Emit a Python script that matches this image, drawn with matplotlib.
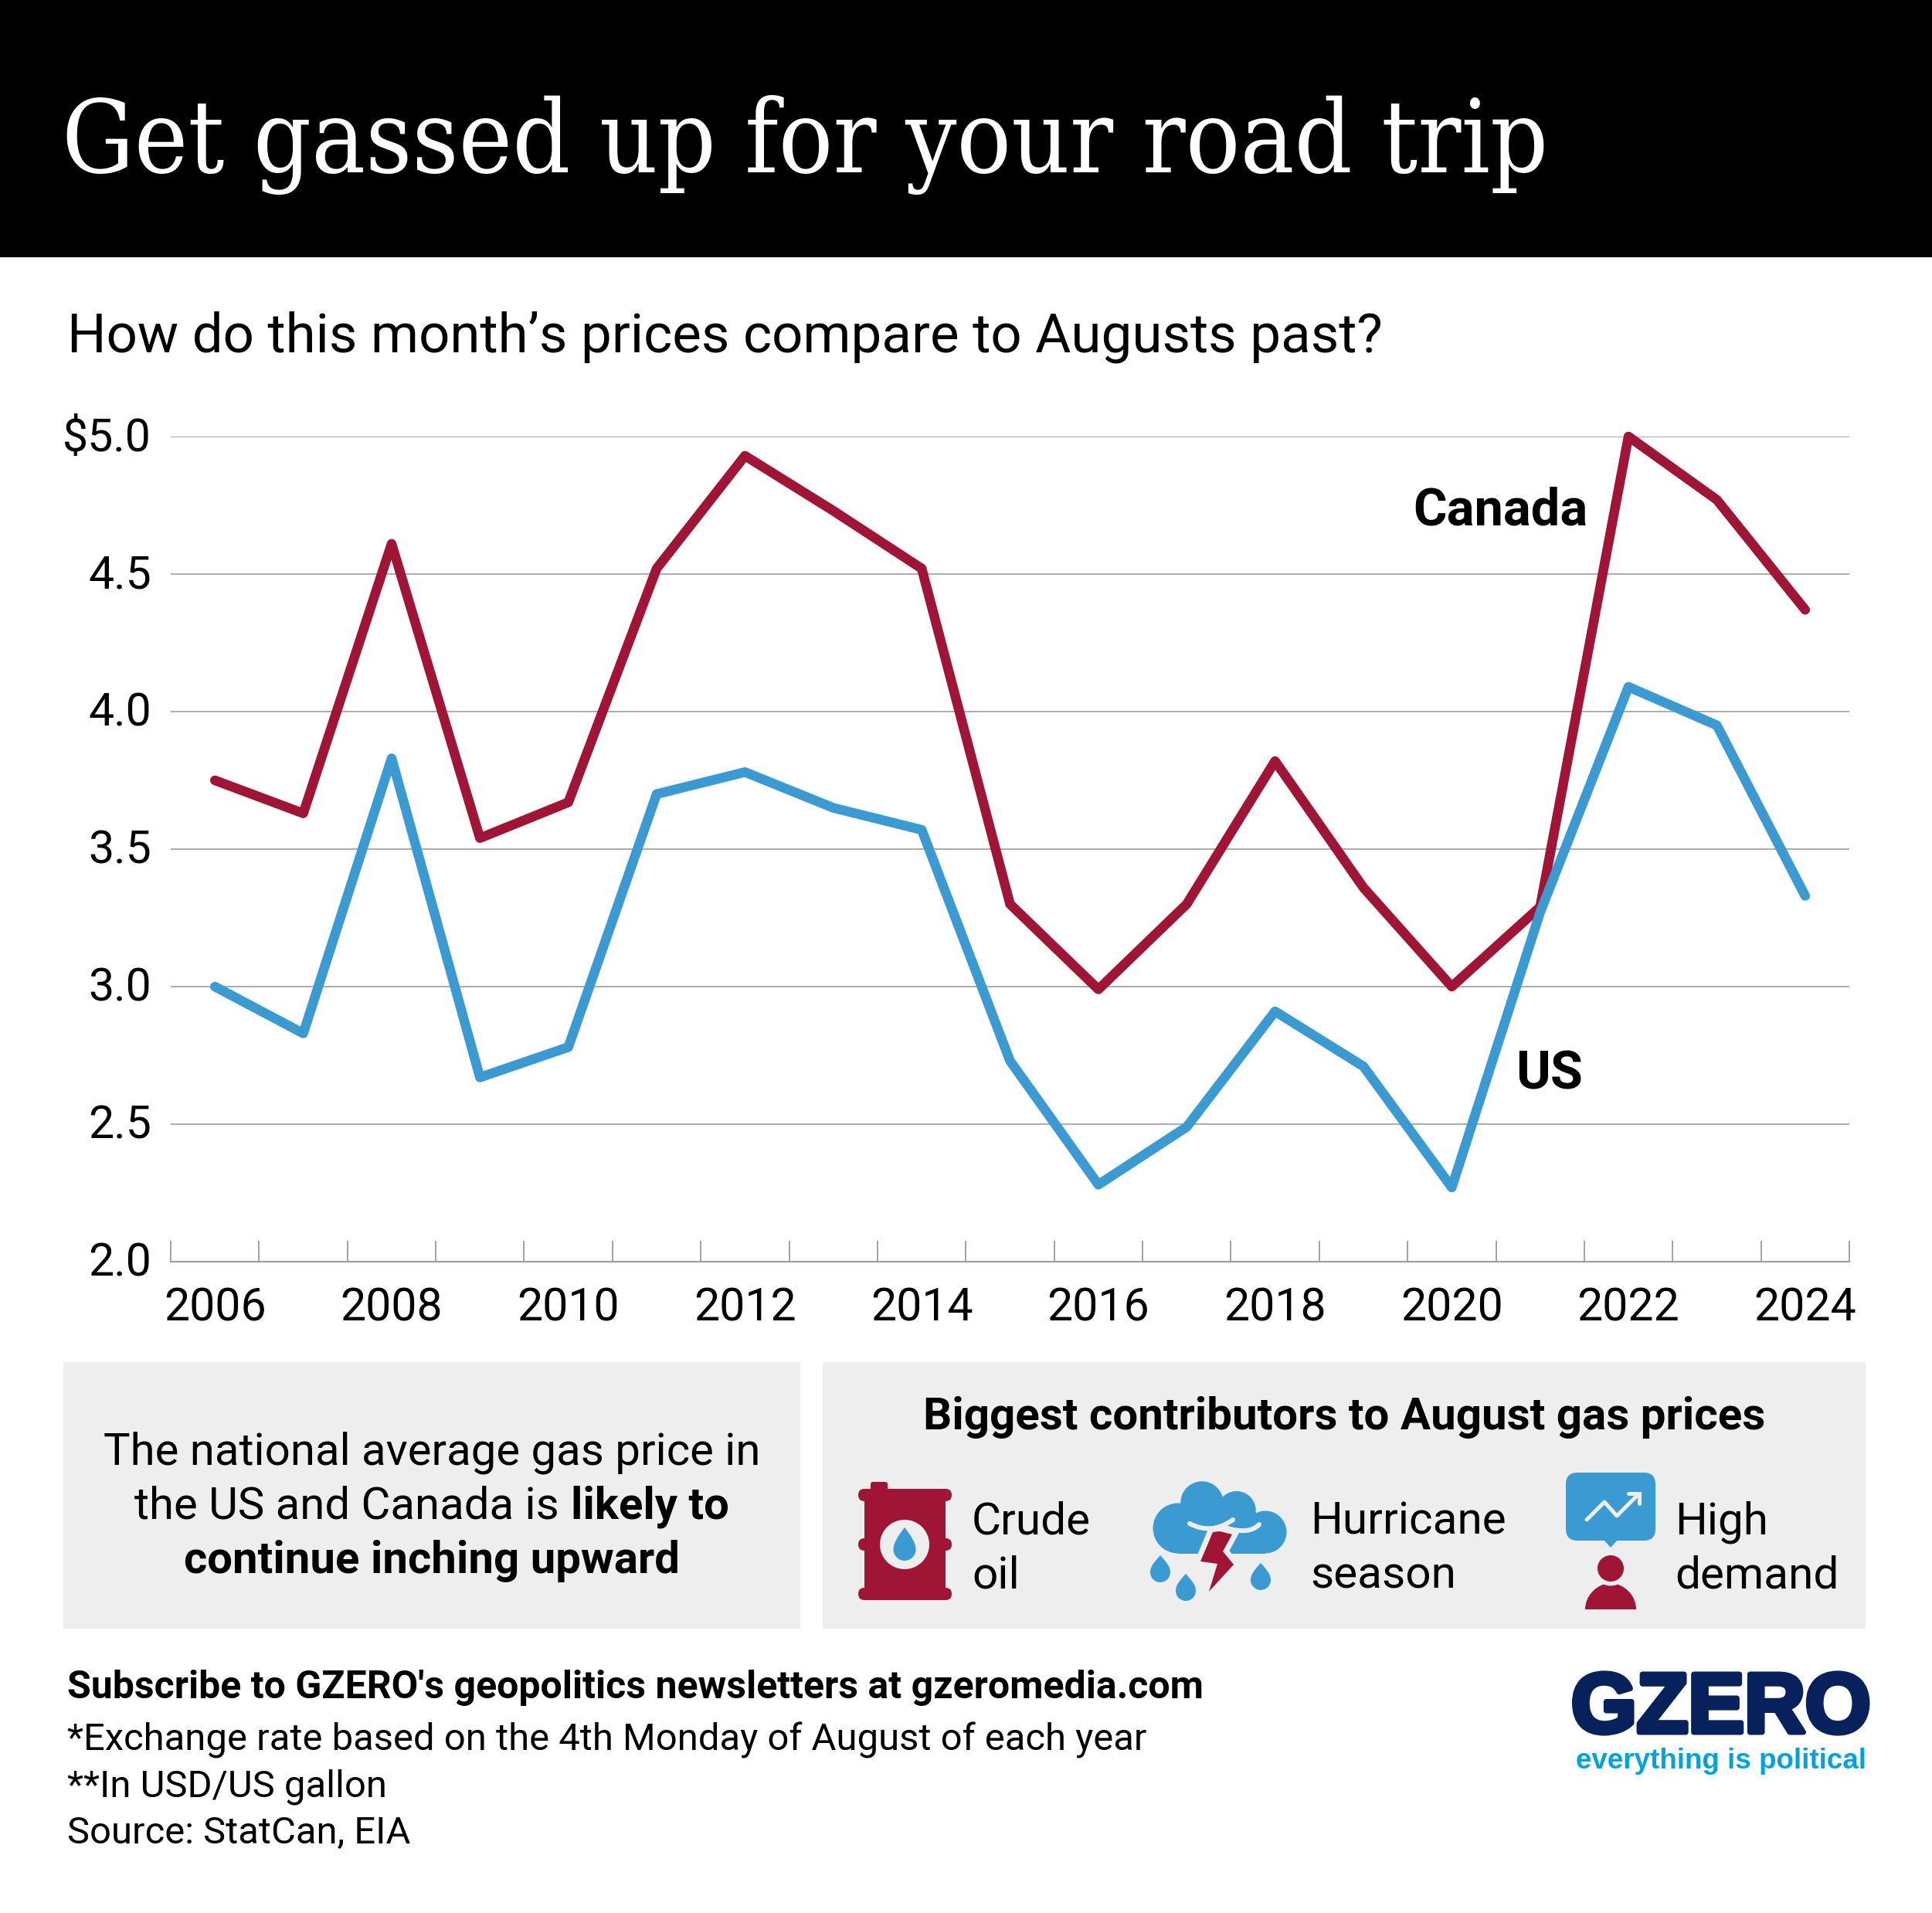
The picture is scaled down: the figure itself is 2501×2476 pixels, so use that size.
import matplotlib
matplotlib.use("Agg")
import matplotlib.pyplot as plt
from matplotlib.patches import Rectangle, Circle, FancyBboxPatch, Polygon, PathPatch
from matplotlib.path import Path
from matplotlib.transforms import ScaledTranslation
import matplotlib.patheffects as pe

years = list(range(2006, 2025))
canada = [3.75, 3.63, 4.61, 3.54, 3.67, 4.52, 4.93, 4.73, 4.52, 3.30, 2.99, 3.30, 3.82, 3.36, 3.00, 3.29, 5.00, 4.77, 4.37]
us = [3.00, 2.83, 3.83, 2.67, 2.78, 3.70, 3.78, 3.65, 3.57, 2.73, 2.28, 2.49, 2.91, 2.71, 2.27, 3.27, 4.09, 3.95, 3.33]
y_ticks = [2.0, 2.5, 3.0, 3.5, 4.0, 4.5, 5.0]
y_labels = ["2.0", "2.5", "3.0", "3.5", "4.0", "4.5", "$5.0"]
x_label_years = list(range(2006, 2025, 2))

W, H = 2501, 2476
RED, BLUE, GREY = "#A01535", "#3A9AD1", "#EEEEEE"
NAVY, CYAN = "#07215C", "#00A3E0"
plt.rcParams["font.family"] = ["Roboto", "DejaVu Sans"]

def pt(px):
    return px * 72 / 100

fig = plt.figure(figsize=(W / 100, H / 100), dpi=100, facecolor="white")
bg = fig.add_axes([0, 0, 1, 1])
bg.set_xlim(0, W); bg.set_ylim(H, 0); bg.axis("off")

def T(x, y, s, px, **kw):
    kw.setdefault("va", "baseline"); kw.setdefault("color", "black")
    return bg.text(x, y, s, fontsize=pt(px), **kw)

# header and panels
bg.add_patch(Rectangle((0, 0), W, 333, fc="black", ec="none"))
bg.add_patch(Rectangle((82, 1763), 954, 345, fc=GREY, ec="none"))
bg.add_patch(Rectangle((1065, 1763), 1350, 345, fc=GREY, ec="none"))
T(80, 223, "Get gassed up for your road trip", 130.7, color="white", family=["DejaVu Serif"], fontstretch="condensed")
T(87, 455, "How do this month\u2019s prices compare to Augusts past?", 70.85)

# chart
ax = fig.add_axes([221 / W, 1 - 1633 / H, (2394 - 221) / W, (1633 - 565) / H])
ax.patch.set_alpha(0)
ax.set_xlim(2005.5, 2024.5); ax.set_ylim(2, 5)
for s in ["top", "left", "right"]:
    ax.spines[s].set_visible(False)
ax.spines["bottom"].set_color("#a0a0a0"); ax.spines["bottom"].set_linewidth(pt(2.2))
ax.set_yticks(y_ticks); ax.set_yticklabels(y_labels, fontsize=pt(59))
ax.tick_params(axis="y", length=0, pad=pt(25))
up = ScaledTranslation(0, 4 / 100, fig.dpi_scale_trans)
for lab in ax.get_yticklabels():
    lab.set_transform(lab.get_transform() + up)
ax.grid(axis="y", color="#adadad", lw=pt(2)); ax.set_axisbelow(True)
ax.set_xticks([y - 0.5 for y in years] + [2024.5]); ax.set_xticklabels([])
ax.tick_params(axis="x", which="major", direction="in", length=pt(27), width=pt(1.8), color="#9a9a9a")
ax.set_xticks(x_label_years, minor=True); ax.set_xticklabels(x_label_years, minor=True, fontsize=pt(59))
ax.tick_params(axis="x", which="minor", length=0, pad=pt(32))
ax.plot(years, canada, color=RED, lw=pt(12.5), solid_joinstyle="round", solid_capstyle="round", clip_on=False)
ax.plot(years, us, color=BLUE, lw=pt(12.5), solid_joinstyle="round", solid_capstyle="round", clip_on=False)
T(1829, 679, "Canada", 66.8, fontweight="bold")
T(1962, 1410, "US", 68, fontweight="bold")

# left panel text
T(559, 1896, "The national average gas price in", 58.1, ha="center")
r = fig.canvas.get_renderer()
a = T(0, 1965, "the US and Canada is ", 58.1)
b = T(0, 1965, "likely to", 58.1, fontweight="bold")
wa = a.get_window_extent(r).width
wb = b.get_window_extent(r).width
a.set_x(559 - (wa + wb) / 2); b.set_x(559 - (wa + wb) / 2 + wa)
T(559, 2036, "continue inching upward", 58.1, ha="center", fontweight="bold")

# right panel text
T(1740, 1850, "Biggest contributors to August gas prices", 58.3, ha="center", fontweight="bold")
for x, l1, l2 in [(1258, "Crude", "oil"), (1696, "Hurricane", "season"), (2168, "High", "demand")]:
    T(x, 1985, l1, 58.5); T(x, 2055, l2, 58.5)

# icons
def drop(cx, top, bot, w, fc):
    h = w / 2; m = bot - h
    verts = [(cx, top), (cx - h * .6, m - (m - top) * .6), (cx - h, m - h * .6), (cx - h, m),
             (cx - h, bot - h * .45), (cx - h * .55, bot), (cx, bot),
             (cx + h * .55, bot), (cx + h, bot - h * .45), (cx + h, m),
             (cx + h, m - h * .6), (cx + h * .6, m - (m - top) * .6), (cx, top)]
    codes = [Path.MOVETO] + [Path.CURVE4] * 12
    bg.add_patch(PathPatch(Path(verts, codes), fc=fc, ec="none", zorder=5))

# barrel
bg.add_patch(Rectangle((1119, 1930), 105, 138, fc=RED, ec="none"))
bg.add_patch(FancyBboxPatch((1127, 1918), 22, 14, boxstyle="round,pad=0,rounding_size=3", fc=RED, ec="none"))
for top in [1927, 1991, 2055]:
    bg.add_patch(FancyBboxPatch((1111, top), 121, 16, boxstyle="round,pad=0,rounding_size=8", fc=RED, ec="none"))
bg.add_patch(Circle((1171, 1999), 32, fc=GREY, ec="none", zorder=4))
drop(1171, 1977, 2020, 29, BLUE)

# storm cloud
for cx, cy, rad in [(1525, 1978, 32.5), (1638, 1983, 27.5), (1556, 1945, 27.7), (1600.7, 1955, 25)]:
    bg.add_patch(Circle((cx, cy), rad, fc=BLUE, ec="none"))
bg.add_patch(Rectangle((1525, 1958), 113, 53, fc=BLUE, ec="none"))
for p0, c, p1 in [((1540, 1972), (1568, 1987), (1596, 1967)), ((1585, 1977), (1618, 1987), (1630, 1973))]:
    bg.add_patch(PathPatch(Path([p0, c, p1], [Path.MOVETO, Path.CURVE3, Path.CURVE3]), fc="none", ec=GREY,
                           lw=pt(6), capstyle="round"))
bolt = [(1570, 1983), (1579, 1982), (1595, 1986), (1583, 2008), (1597, 2025), (1565, 2060), (1576, 2024), (1554, 2021)]
bg.add_patch(Polygon(bolt, fc=RED, ec=GREY, lw=pt(14), joinstyle="miter", zorder=3))
bg.add_patch(Polygon(bolt, fc=RED, ec="none", zorder=4))
drop(1502, 2013, 2048, 26, BLUE)
drop(1535, 2037, 2072, 26, BLUE)
drop(1632, 2023, 2058, 26, BLUE)

# demand
bg.add_patch(FancyBboxPatch((2027, 1906), 116, 88, boxstyle="round,pad=0,rounding_size=15", fc=BLUE, ec="none"))
bg.add_patch(Polygon([(2076, 1993), (2094, 1993), (2085, 2003)], fc=BLUE, ec="none"))
bg.plot([2054, 2077, 2093, 2120], [1967, 1944, 1962, 1935], color=GREY, lw=pt(5), solid_capstyle="round", solid_joinstyle="round")
bg.plot([2108, 2122, 2122], [1933, 1933, 1946], color=GREY, lw=pt(5), solid_capstyle="round", solid_joinstyle="miter")
body = Path([(2052, 2083), (2052, 2066), (2066, 2050), (2085, 2049), (2104, 2050), (2118, 2066), (2118, 2083), (2052, 2083)],
            [Path.MOVETO, Path.CURVE4, Path.CURVE4, Path.CURVE4, Path.CURVE4, Path.CURVE4, Path.CURVE4, Path.CLOSEPOLY])
bg.add_patch(PathPatch(body, fc=RED, ec="none"))
bg.add_patch(Circle((2085, 2030), 22.5, fc=GREY, ec="none"))
bg.add_patch(Circle((2085, 2030), 17, fc=RED, ec="none"))

# footer
T(87, 2198, "Subscribe to GZERO's geopolitics newsletters at gzeromedia.com", 50, fontweight="bold")
T(87, 2265, "*Exchange rate based on the 4th Monday of August of each year", 49)
T(87, 2325, "**In USD/US gallon", 49)
T(87, 2386, "Source: StatCan, EIA", 49)

# logo
T(2034, 2242, "GZERO", 109, color=NAVY, fontweight="bold", family=["Liberation Sans"],
  path_effects=[pe.withStroke(linewidth=pt(7), foreground=NAVY)])
T(2040, 2289, "everything is political", 36.7, color=CYAN, fontweight="bold", family=["Liberation Sans"])

fig.savefig("out.png", dpi=100)
